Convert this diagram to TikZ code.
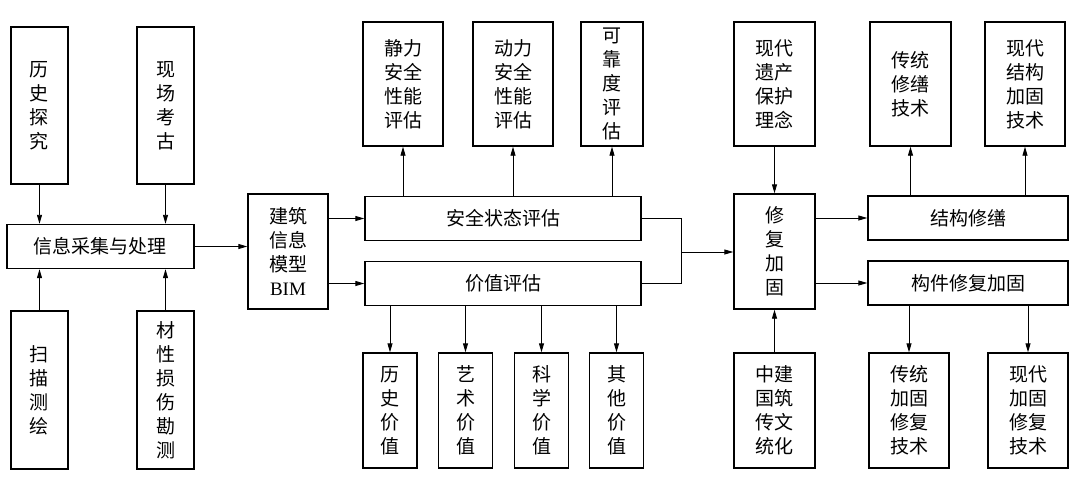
\documentclass[tikz,border=0pt]{standalone}
\usepackage{fontspec}
\setmainfont{Liberation Serif}
\newfontfamily\cjk{Noto Sans CJK SC}
\usetikzlibrary{arrows.meta}

\begin{document}
\begin{tikzpicture}[x=1pt, y=-1pt,
  block/.style={rectangle, draw, line width=1.4pt, inner sep=0pt, minimum width=57pt, align=center, font=\cjk\fontsize{19}{24}\selectfont},
  barblock/.style={block, minimum height=44pt},
  arrow/.style={-{Triangle[length=9pt, width=5pt]}, line width=0.9pt},
  link/.style={line width=0.9pt}
]
  \useasboundingbox (0,0) rectangle (1080,488);

  % Information gathering
  \node[block, minimum height=157pt] (hist) at (39.5,105.5) {历\\史\\探\\究};
  \node[block, minimum height=157pt] (site) at (165.5,105.5) {现\\场\\考\\古};
  \node[barblock, minimum width=187pt] (info) at (100.5,246.5) {信息采集与处理};
  \node[block, minimum height=158pt] (scan) at (39.5,390) {扫\\描\\测\\绘};
  \node[block, minimum height=158pt] (mat) at (165.5,390) {材\\性\\损\\伤\\勘\\测};

  % BIM
  \node[block, minimum width=80pt, minimum height=115pt] (bim) at (288,251.5) {建筑\\信息\\模型\\{\rmfamily BIM}};

  % Assessment
  \node[barblock, minimum width=276pt] (safety) at (503,218.5) {安全状态评估};
  \node[barblock, minimum width=276pt] (value) at (503,283.5) {价值评估};
  \node[block, minimum width=80pt, minimum height=124pt] (static) at (403,84) {静力\\安全\\性能\\评估};
  \node[block, minimum width=80pt, minimum height=124pt] (dyn) at (513,84) {动力\\安全\\性能\\评估};
  \node[block, minimum width=62pt, minimum height=124pt] (rel) at (612,84) {可\\靠\\度\\评\\估};
  \node[block, minimum width=54pt, minimum height=115pt] (vhist) at (390,410.5) {历\\史\\价\\值};
  \node[block, minimum width=54pt, minimum height=115pt] (vart) at (465.5,410.5) {艺\\术\\价\\值};
  \node[block, minimum width=54pt, minimum height=115pt] (vsci) at (541.5,410.5) {科\\学\\价\\值};
  \node[block, minimum width=54pt, minimum height=115pt] (voth) at (616.5,410.5) {其\\他\\价\\值};
  \coordinate (join) at (681,252);

  % Repair
  \node[block, minimum width=81pt, minimum height=115pt] (repair) at (774.5,251.5) {修\\复\\加\\固};
  \node[block, minimum width=81pt, minimum height=124pt] (idea) at (774.5,84) {现代\\遗产\\保护\\理念};
  \node[block, minimum width=81pt, minimum height=115pt] (culture) at (774.5,410.5) {中建\\国筑\\传文\\统化};
  \node[barblock, minimum width=200pt] (struct) at (968,218) {结构修缮};
  \node[barblock, minimum width=200pt] (comp) at (968,283) {构件修复加固};
  \node[block, minimum width=81pt, minimum height=124pt] (tradrep) at (910.5,84) {传统\\修缮\\技术};
  \node[block, minimum width=80pt, minimum height=124pt] (modrep) at (1025,84) {现代\\结构\\加固\\技术};
  \node[block, minimum width=80pt, minimum height=115pt] (tradfix) at (909,410.5) {传统\\加固\\修复\\技术};
  \node[block, minimum width=80pt, minimum height=115pt] (modfix) at (1028,410.5) {现代\\加固\\修复\\技术};

  % Arrows
  \draw[arrow] (hist.south) -- (hist.south |- info.north);
  \draw[arrow] (site.south) -- (site.south |- info.north);
  \draw[arrow] (scan.north) -- (scan.north |- info.south);
  \draw[arrow] (mat.north) -- (mat.north |- info.south);
  \draw[arrow] (info.east) -- (info.east -| bim.west);
  \draw[arrow] (bim.east |- safety) -- (safety.west);
  \draw[arrow] (bim.east |- value) -- (value.west);
  \draw[arrow] (static.south |- safety.north) -- (static.south);
  \draw[arrow] (dyn.south |- safety.north) -- (dyn.south);
  \draw[arrow] (rel.south |- safety.north) -- (rel.south);
  \draw[arrow] (vhist.north |- value.south) -- (vhist.north);
  \draw[arrow] (vart.north |- value.south) -- (vart.north);
  \draw[arrow] (vsci.north |- value.south) -- (vsci.north);
  \draw[arrow] (voth.north |- value.south) -- (voth.north);
  \draw[link] (safety.east) -| (join);
  \draw[link] (value.east) -| (join);
  \draw[arrow] (join) -- (join -| repair.west);
  \draw[arrow] (idea.south) -- (repair.north);
  \draw[arrow] (culture.north) -- (repair.south);
  \draw[arrow] (repair.east |- struct) -- (struct.west);
  \draw[arrow] (repair.east |- comp) -- (comp.west);
  \draw[arrow] (tradrep.south |- struct.north) -- (tradrep.south);
  \draw[arrow] (modrep.south |- struct.north) -- (modrep.south);
  \draw[arrow] (tradfix.north |- comp.south) -- (tradfix.north);
  \draw[arrow] (modfix.north |- comp.south) -- (modfix.north);
\end{tikzpicture}
\end{document}
